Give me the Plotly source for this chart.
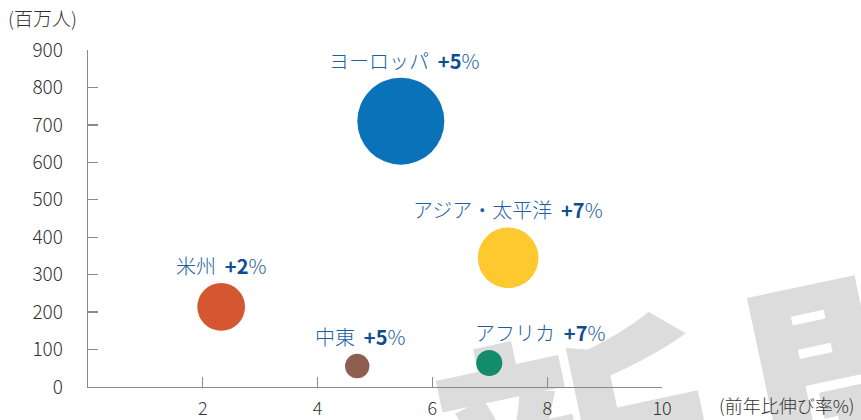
import base64
import plotly.graph_objects as go

# ---- data ----
regions = ["ヨーロッパ", "アジア・太平洋", "米州", "中東", "アフリカ"]
growth_pct = [5.45, 7.32, 2.32, 4.69, 6.99]          # x: 前年比伸び率(%)
arrivals_mn = [710, 345, 214, 56, 64]                 # y: 百万人 (also bubble size)
growth_labels = ["+5", "+7", "+2", "+5", "+7"]
bubble_colors = ["#0a72b9", "#fdc92f", "#d55731", "#8e5f51", "#128c69"]
x_ticks = [2, 4, 6, 8, 10]
y_ticks = [0, 100, 200, 300, 400, 500, 600, 700, 800, 900]

W, H = 861, 420
L, R, T, B = 88, 199, 50, 33
PW, PH = W - L - R, H - T - B

MAX_D = 87
sizeref = 2 * max(arrivals_mn) / MAX_D ** 2

FONT = "Noto Sans CJK JP, Noto Sans, sans-serif"
TXT = "#1d5fa3"
BOLD = "#104c92"
AX = "#8a8a8a"
TICKF = "#333333"

fig = go.Figure()
fig.add_trace(go.Scatter(
    x=growth_pct, y=arrivals_mn, mode="markers",
    marker=dict(size=arrivals_mn, sizemode="area", sizeref=sizeref,
                color=bubble_colors, line=dict(width=0), opacity=1),
    hoverinfo="skip", cliponaxis=False, showlegend=False,
))

xshifts = [3, 0, 0, 3, 51]
for name, gx, gy, gl, xs in zip(regions, growth_pct, arrivals_mn, growth_labels, xshifts):
    r = (gy / (2 * sizeref)) ** 0.5
    fig.add_annotation(
        x=gx, y=gy, xref="x", yref="y",
        text=f"{name}  <span style='color:{BOLD}'><b>{gl}</b></span>%",
        showarrow=False, xanchor="center", yanchor="bottom",
        yshift=r + 1, xshift=xs,
        font=dict(family=FONT, size=20, color=TXT, weight=300),
    )

# axis titles
fig.add_annotation(text="(百万人)", xref="paper", yref="paper",
                   x=-L / PW + 6 / PW, y=1 + (T - 17) / PH, xanchor="left", yanchor="middle",
                   showarrow=False, font=dict(family=FONT, size=19, color=TICKF, weight=300))
fig.add_annotation(text="(前年比伸び率%)", xref="paper", yref="paper",
                   x=(856 - L) / PW, y=-(B - 1) / PH, xanchor="right", yanchor="bottom",
                   showarrow=False, borderpad=0,
                   font=dict(family=FONT, size=18, color=TICKF, weight=300))

# background watermark (light grey, partially visible)
svg = f"""<svg xmlns='http://www.w3.org/2000/svg' width='{W}' height='{H}' viewBox='0 0 {W} {H}'>
<text x='466' y='588' transform='rotate(-12 466 588)' font-family='Noto Sans CJK JP' font-weight='900'
 font-size='275' fill='#dcdcdc' letter-spacing='40'>新聞</text></svg>"""
src = "data:image/svg+xml;base64," + base64.b64encode(svg.encode("utf-8")).decode()
fig.add_layout_image(dict(source=src, xref="paper", yref="paper",
                          x=-L / PW, y=1 + T / PH, sizex=W / PW, sizey=H / PH,
                          xanchor="left", yanchor="top", sizing="stretch", layer="below"))

fig.update_xaxes(range=[0, 10], tickvals=x_ticks, showgrid=False, zeroline=False,
                 showline=True, linecolor=AX, linewidth=1.3, automargin=False,
                 ticks="inside", ticklen=10, tickwidth=1.3, tickcolor=AX,
                 ticklabelstandoff=5,
                 tickfont=dict(family=FONT, size=18, color=TICKF, weight=300))
fig.update_yaxes(range=[0, 900], tickvals=y_ticks, showgrid=False, zeroline=False,
                 showline=True, linecolor=AX, linewidth=1.3, automargin=False,
                 ticks="inside", ticklen=10, tickwidth=1.3, tickcolor=AX,
                 ticklabelstandoff=20,
                 tickfont=dict(family=FONT, size=19, color=TICKF, weight=300))

fig.update_layout(width=W, height=H, margin=dict(l=L, r=R, t=T, b=B, autoexpand=False),
                  paper_bgcolor="white", plot_bgcolor="rgba(0,0,0,0)",
                  showlegend=False)

fig.write_html("out.html", config={"displayModeBar": False, "staticPlot": True},
               post_script="document.body.style.margin='0';document.body.style.overflow='hidden';")
